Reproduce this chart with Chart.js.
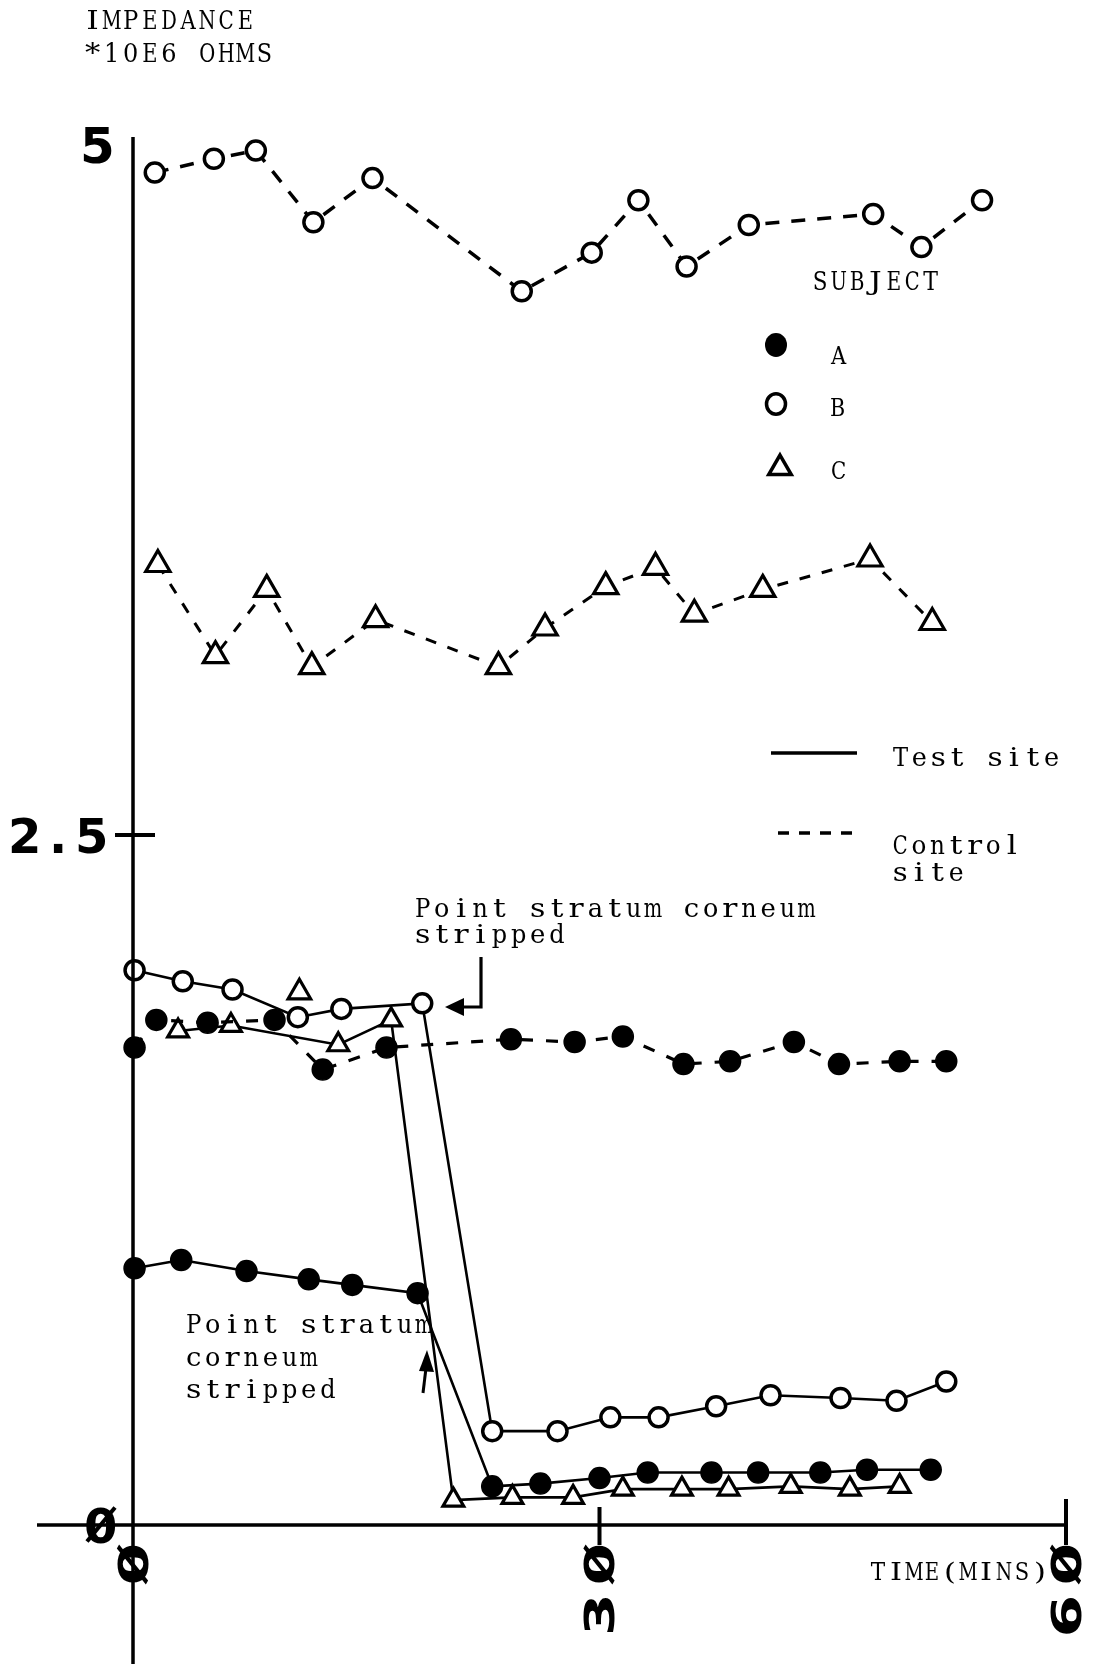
<!DOCTYPE html>
<html>
<head>
<meta charset="utf-8">
<script src="https://cdn.jsdelivr.net/npm/chart.js@4.4.1/dist/chart.umd.min.js"></script>
<style>
  html, body { margin: 0; padding: 0; background: #fff; }
  canvas { display: block; }
</style>
</head>
<body>
<canvas id="chart" width="1098" height="1664"></canvas>
<script>
// Skin impedance (x10^6 ohms) over time at a test site and a control site, subjects A, B and C

const timeTicks = [0, 30, 60];
const timeTickLabels = ['0', '30', '60'];
const impTicks = [0, 2.5, 5];
const impTickLabels = ['0', '2.5', '5'];

// Subject A
const aTestTime = [0.1, 3.1, 7.3, 11.3, 14.1, 18.3, 23.1, 26.2, 30.0, 33.1, 37.2, 40.2, 44.2, 47.2, 51.3];
const aTestImp  = [0.93, 0.96, 0.92, 0.89, 0.87, 0.84, 0.14, 0.15, 0.17, 0.19, 0.19, 0.19, 0.19, 0.20, 0.20];
const aCtrlTime = [0.1, 1.5, 4.8, 9.1, 12.2, 16.3, 24.3, 28.4, 31.5, 35.4, 38.4, 42.5, 45.4, 49.3, 52.3];
const aCtrlImp  = [1.73, 1.83, 1.82, 1.83, 1.65, 1.73, 1.76, 1.75, 1.77, 1.67, 1.68, 1.75, 1.67, 1.68, 1.68];

// Subject B
const bTestTime = [0.1, 3.2, 6.4, 10.6, 13.4, 18.6, 23.1, 27.3, 30.7, 33.8, 37.5, 41.0, 45.5, 49.1, 52.3];
const bTestImp  = [2.01, 1.97, 1.94, 1.84, 1.87, 1.89, 0.34, 0.34, 0.39, 0.39, 0.43, 0.47, 0.46, 0.45, 0.52];
const bCtrlTime = [1.4, 5.2, 7.9, 11.6, 15.4, 25.0, 29.5, 32.5, 35.6, 39.6, 47.6, 50.7, 54.6];
const bCtrlImp  = [4.90, 4.95, 4.98, 4.72, 4.88, 4.47, 4.61, 4.80, 4.56, 4.71, 4.75, 4.63, 4.80];

// Subject C
const cTestTime = [2.9, 6.3, 13.2, 16.6, 20.6, 24.4, 28.3, 31.5, 35.3, 38.3, 42.3, 46.1, 49.3];
const cTestImp  = [1.79, 1.81, 1.74, 1.83, 0.09, 0.10, 0.10, 0.13, 0.13, 0.13, 0.14, 0.13, 0.14];
const cLoneTime = [10.7];
const cLoneImp  = [1.93];
const cCtrlTime = [1.6, 5.3, 8.6, 11.5, 15.6, 23.5, 26.5, 30.4, 33.6, 36.1, 40.5, 47.4, 51.4];
const cCtrlImp  = [3.48, 3.15, 3.39, 3.11, 3.28, 3.11, 3.25, 3.40, 3.47, 3.30, 3.39, 3.50, 3.27];

const INK = '#000';
const PAPER = '#fff';
const TYPE = '"DejaVu Serif", "Liberation Serif", serif';
const DIGITS = '"DejaVu Sans", sans-serif';

const pairs = (t, v) => t.map((x, i) => ({ x, y: v[i] }));

function openCircles(extra) {
  return Object.assign({ pointStyle: 'circle', pointRadius: 9.5, pointBorderWidth: 3.5,
    pointBackgroundColor: PAPER, pointBorderColor: INK }, extra);
}
function filledCircles(extra) {
  return Object.assign({ pointStyle: 'circle', pointRadius: 10.5, pointBorderWidth: 1.5,
    pointBackgroundColor: INK, pointBorderColor: INK }, extra);
}
function triangles(r, extra) {
  return Object.assign({ pointStyle: 'triangle', pointRadius: r, pointBorderWidth: 3.2,
    pointBackgroundColor: PAPER, pointBorderColor: INK }, extra);
}

const datasets = [
  openCircles({ label: 'B control', data: pairs(bCtrlTime, bCtrlImp), borderDash: [14, 12], borderWidth: 3.5 }),
  triangles(14, { label: 'C control', data: pairs(cCtrlTime, cCtrlImp), borderDash: [11, 12], borderWidth: 3 }),
  filledCircles({ label: 'A control', data: pairs(aCtrlTime, aCtrlImp), borderDash: [12, 13], borderWidth: 3.2 }),
  openCircles({ label: 'B test', data: pairs(bTestTime, bTestImp), borderWidth: 2.6 }),
  filledCircles({ label: 'A test', data: pairs(aTestTime, aTestImp), borderWidth: 2.6 }),
  triangles(12, { label: 'C test', data: pairs(cTestTime, cTestImp), borderWidth: 2.6 }),
  triangles(13, { label: 'C test', data: pairs(cLoneTime, cLoneImp), showLine: false })
].map(d => Object.assign({ showLine: true, borderColor: INK, backgroundColor: INK,
  tension: 0, clip: false, pointHoverRadius: 0 }, d));

function drawDot(ctx, cx, cy, r, filled) {
  ctx.beginPath();
  ctx.ellipse(cx, cy, r, r * 1.08, 0, 0, Math.PI * 2);
  if (filled) { ctx.fill(); } else { ctx.lineWidth = 3.5; ctx.stroke(); }
}
function drawTriangle(ctx, cx, cy, r) {
  ctx.beginPath();
  for (let k = 0; k < 3; k++) {
    const a = -Math.PI / 2 + k * 2 * Math.PI / 3;
    const px = cx + Math.cos(a) * r, py = cy + Math.sin(a) * r;
    k ? ctx.lineTo(px, py) : ctx.moveTo(px, py);
  }
  ctx.closePath();
  ctx.lineWidth = 3.5;
  ctx.stroke();
}

// typewriter-style text: every character sits centred in a cell of fixed width,
// narrow letters are widened a little to fill their cell
function typeText(ctx, text, x, y, cell) {
  let cx = x;
  for (const ch of text) {
    if (ch !== ' ') {
      const w = ctx.measureText(ch).width;
      const s = Math.max(0.75, Math.min(1.22, (cell * 0.8) / w));
      ctx.save();
      ctx.translate(cx + cell / 2, y);
      ctx.scale(s, 1);
      ctx.textAlign = 'center';
      ctx.fillText(ch, 0, 0);
      ctx.restore();
    }
    cx += cell;
  }
}

// number drawn right-aligned at the current origin (baseline y = 0),
// zeros get a slash through them
function drawNumber(ctx, label, size, stretch, gap) {
  ctx.font = `bold ${size}px ${DIGITS}`;
  ctx.textAlign = 'left';
  ctx.textBaseline = 'alphabetic';
  const boxes = [...label].map(ch => {
    const m = ctx.measureText(ch);
    return { ch, l: -m.actualBoundingBoxLeft, r: m.actualBoundingBoxRight,
             t: -m.actualBoundingBoxAscent };
  });
  ctx.save();
  ctx.scale(stretch, 1);
  let pos = 0;
  for (let i = boxes.length - 1; i >= 0; i--) {
    const b = boxes[i];
    const ox = pos - b.r;
    ctx.fillText(b.ch, ox, 0);
    if (b.ch === '0') {
      ctx.lineWidth = size * 0.085;
      ctx.lineCap = 'butt';
      ctx.beginPath();
      ctx.moveTo(ox + b.l + 1, -1);
      ctx.lineTo(ox + b.r - 1, b.t + 1);
      ctx.stroke();
    }
    pos = ox + b.l - gap / stretch;
  }
  ctx.restore();
}

const decorations = {
  id: 'decorations',
  afterDraw(chart) {
    const { ctx, scales: { x, y } } = chart;
    const x0 = x.getPixelForValue(0);
    const y0 = y.getPixelForValue(0);
    const xEnd = x.getPixelForValue(60);
    ctx.save();
    ctx.strokeStyle = INK;
    ctx.fillStyle = INK;

    // axes: vertical axis runs past the origin to the foot of the page,
    // horizontal axis starts to the left of the vertical one
    ctx.lineWidth = 3.5;
    ctx.beginPath();
    ctx.moveTo(x0, y.getPixelForValue(5) - 8);
    ctx.lineTo(x0, chart.height);
    ctx.moveTo(37, y0);
    ctx.lineTo(xEnd, y0);
    ctx.stroke();

    // tick marks at 2.5, 30 and 60
    ctx.lineWidth = 4;
    ctx.beginPath();
    const y25 = y.getPixelForValue(2.5);
    ctx.moveTo(115, y25); ctx.lineTo(x0 + 22, y25);
    const x30 = x.getPixelForValue(30);
    ctx.moveTo(x30, y0 - 18); ctx.lineTo(x30, y0 + 20);
    ctx.moveTo(xEnd, y0 - 26); ctx.lineTo(xEnd, y0 + 20);
    ctx.stroke();

    // impedance tick labels
    impTicks.forEach((v, i) => {
      const label = impTickLabels[i];
      const size = label === '5' ? 50 : 48;
      const right = v === 0 ? 116 : (v === 5 ? 112 : 106);
      ctx.save();
      ctx.translate(right, y.getPixelForValue(v) + size * 0.365);
      drawNumber(ctx, label, size, 1, 15);
      ctx.restore();
    });

    // time tick labels, turned to read upwards
    timeTicks.forEach((t, i) => {
      ctx.save();
      ctx.translate(x.getPixelForValue(t), y0 + 20);
      ctx.rotate(-Math.PI / 2);
      ctx.translate(0, 41 * 0.365);
      drawNumber(ctx, timeTickLabels[i], 41, 1.5, 13);
      ctx.restore();
    });

    ctx.textAlign = 'left';
    ctx.textBaseline = 'alphabetic';

    // axis titles
    ctx.font = `26px ${TYPE}`;
    typeText(ctx, 'IMPEDANCE', 83, 29, 19.1);
    typeText(ctx, '*10E6 OHMS', 83, 62, 19.1);
    ctx.font = `25px ${TYPE}`;
    typeText(ctx, 'TIME(MINS)', 869, 1580, 18);

    // subject key
    ctx.font = `26px ${TYPE}`;
    typeText(ctx, 'SUBJECT', 811, 290, 18.4);
    ctx.font = `25px ${TYPE}`;
    typeText(ctx, 'A', 829, 364, 19);
    typeText(ctx, 'B', 828, 416, 19);
    typeText(ctx, 'C', 829, 479, 19);
    drawDot(ctx, 776, 345, 11, true);
    drawDot(ctx, 776, 404, 9.5, false);
    drawTriangle(ctx, 780, 468, 13);

    // site key
    ctx.lineWidth = 3.5;
    ctx.beginPath();
    ctx.moveTo(771, 753); ctx.lineTo(857, 753);
    ctx.stroke();
    ctx.setLineDash([11, 10]);
    ctx.beginPath();
    ctx.moveTo(778, 833); ctx.lineTo(857, 833);
    ctx.stroke();
    ctx.setLineDash([]);
    ctx.font = `26px ${TYPE}`;
    typeText(ctx, 'Test site', 891, 766, 18.9);
    typeText(ctx, 'Control', 891, 854, 18.6);
    typeText(ctx, 'site', 891, 881, 18.6);

    // annotation for the test-site stripping, upper group
    typeText(ctx, 'Point stratum corneum', 413, 917, 19.2);
    typeText(ctx, 'stripped', 413, 943, 19.2);
    ctx.lineWidth = 3.2;
    ctx.beginPath();
    ctx.moveTo(481, 957); ctx.lineTo(481, 1007); ctx.lineTo(462, 1007);
    ctx.stroke();
    ctx.beginPath();
    ctx.moveTo(445, 1007); ctx.lineTo(464, 998); ctx.lineTo(464, 1016); ctx.closePath();
    ctx.fill();

    // annotation for the lower group
    typeText(ctx, 'Point stratum', 184, 1333, 19.2);
    typeText(ctx, 'corneum', 184, 1366, 19.2);
    typeText(ctx, 'stripped', 184, 1398, 19.2);
    ctx.lineWidth = 3;
    ctx.beginPath();
    ctx.moveTo(423, 1393); ctx.lineTo(426, 1368);
    ctx.stroke();
    ctx.beginPath();
    ctx.moveTo(427, 1350); ctx.lineTo(419, 1371); ctx.lineTo(434, 1372); ctx.closePath();
    ctx.fill();

    ctx.restore();
  }
};

new Chart(document.getElementById('chart'), {
  type: 'scatter',
  data: { datasets },
  options: {
    responsive: false,
    animation: false,
    events: [],
    devicePixelRatio: 1,
    layout: { padding: { left: 0, right: 32, top: 145, bottom: 0 } },
    plugins: { legend: { display: false }, tooltip: { enabled: false } },
    scales: {
      x: {
        type: 'linear', min: 0, max: 60,
        ticks: { display: false, stepSize: 30 },
        grid: { display: false }, border: { display: false },
        afterFit(scale) { scale.height = 139; }
      },
      y: {
        type: 'linear', min: 0, max: 5,
        ticks: { display: false, stepSize: 2.5 },
        grid: { display: false }, border: { display: false },
        afterFit(scale) { scale.width = 133; }
      }
    }
  },
  plugins: [decorations]
});
</script>
</body>
</html>
